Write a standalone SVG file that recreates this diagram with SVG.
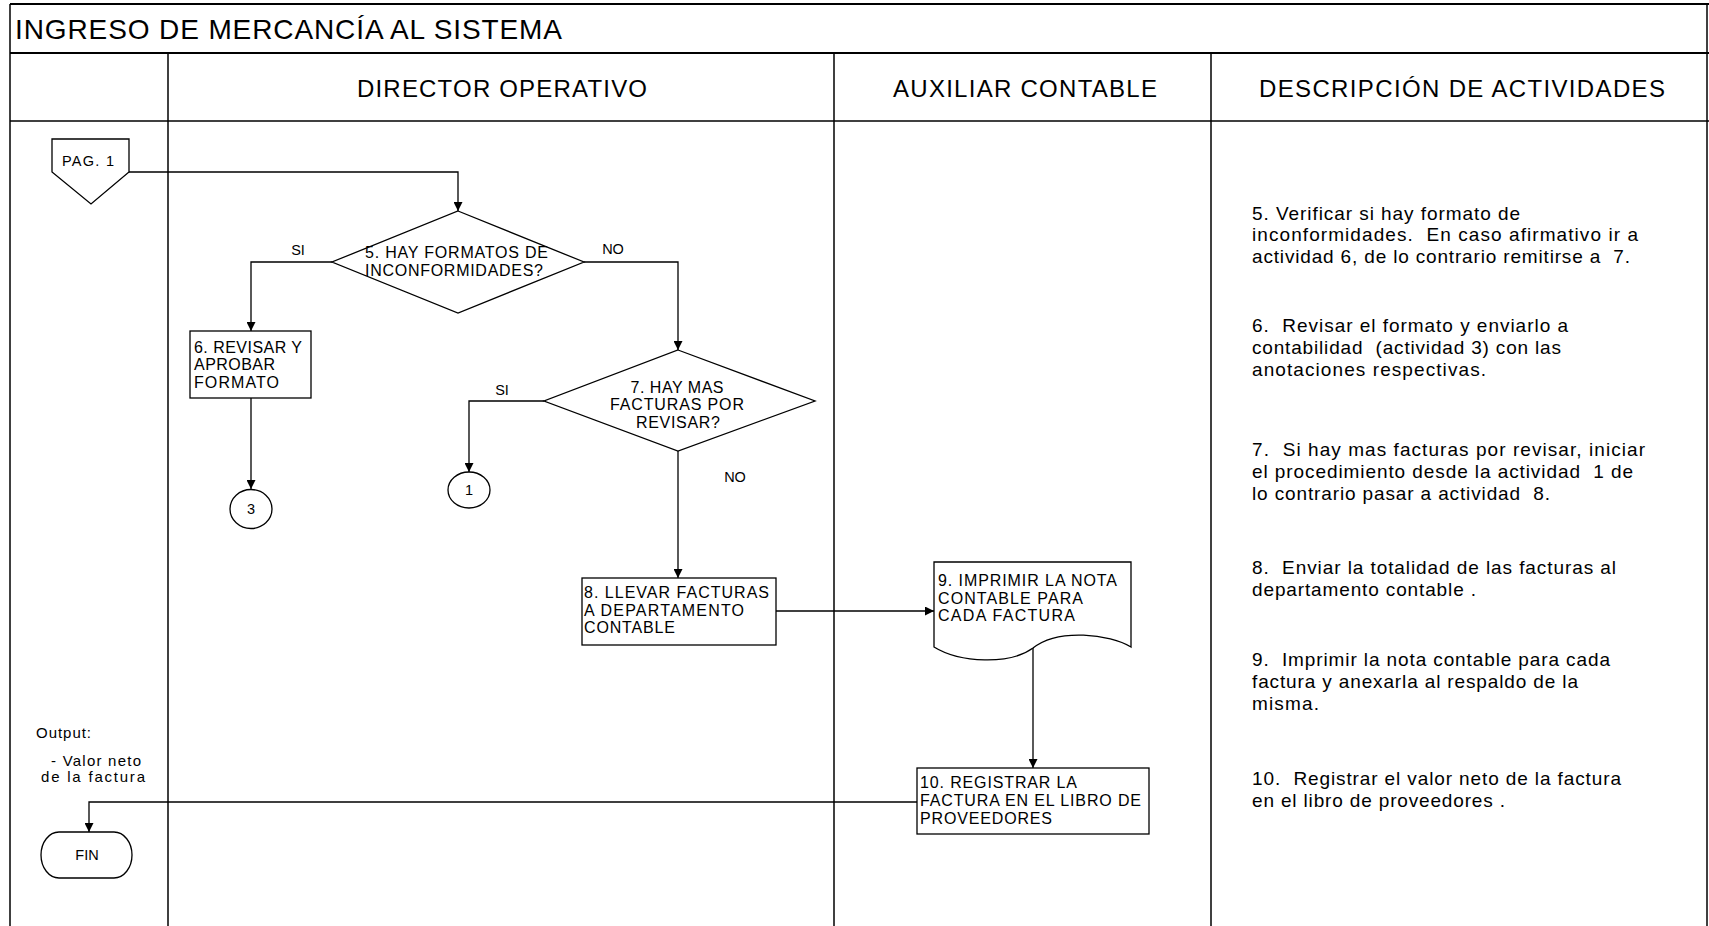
<svg xmlns="http://www.w3.org/2000/svg" width="1709" height="926" viewBox="0 0 1709 926">
  <defs>
    <marker id="arrow" viewBox="0 0 10 10" refX="10" refY="5" markerWidth="9" markerHeight="9" markerUnits="userSpaceOnUse" orient="auto">
      <path d="M0,0 L10,5 L0,10 Z" fill="#000"/>
    </marker>
    <style>
      .frame { fill: none; stroke: #000; stroke-width: 1.5; }
      .frame-bold { fill: none; stroke: #000; stroke-width: 2; }
      .shape { fill: #fff; stroke: #000; stroke-width: 1.3; }
      .conn { fill: none; stroke: #000; stroke-width: 1.3; marker-end: url(#arrow); }
      .t { font-family: "Liberation Sans", Arial, sans-serif; fill: #000; }
      .title { font-size: 28px; }
      .head { font-size: 24px; }
      .node { font-size: 16px; }
      .lbl { font-size: 14.5px; }
      .desc { font-size: 19px; white-space: pre; }
      .note { font-size: 15px; }
      .mid { text-anchor: middle; }
    </style>
  </defs>

  <rect x="0" y="0" width="1709" height="926" fill="#fff"/>

  <!-- table frame: title row, header row, swimlane columns -->
  <g id="frame">
    <line class="frame-bold" x1="10" y1="4" x2="1709" y2="4"/>
    <line class="frame-bold" x1="10" y1="53" x2="1709" y2="53"/>
    <line class="frame" x1="10" y1="121" x2="1709" y2="121"/>
    <line class="frame" x1="10" y1="4" x2="10" y2="926"/>
    <line class="frame" x1="1707" y1="4" x2="1707" y2="926"/>
    <line class="frame" x1="168" y1="53" x2="168" y2="926"/>
    <line class="frame" x1="834" y1="53" x2="834" y2="926"/>
    <line class="frame" x1="1211" y1="53" x2="1211" y2="926"/>
    <text class="t title" x="15" y="39" textLength="547" lengthAdjust="spacing">INGRESO DE MERCANCÍA AL SISTEMA</text>
    <text class="t head" x="357" y="97" textLength="290" lengthAdjust="spacing">DIRECTOR OPERATIVO</text>
    <text class="t head" x="893" y="97" textLength="264" lengthAdjust="spacing">AUXILIAR CONTABLE</text>
    <text class="t head" x="1259" y="97" textLength="406" lengthAdjust="spacing">DESCRIPCIÓN DE ACTIVIDADES</text>
  </g>

  <!-- connectors -->
  <g id="connectors">
    <path class="conn" d="M129,172 H458 V211"/>
    <path class="conn" d="M332,262 H251 V331"/>
    <path class="conn" d="M251,398 V489"/>
    <path class="conn" d="M584,262 H678 V350"/>
    <path class="conn" d="M544,401 H469 V472"/>
    <path class="conn" d="M678,451 V578"/>
    <path class="conn" d="M776,611 H934"/>
    <path class="conn" d="M1033,648 V768"/>
    <path class="conn" d="M917,802 H89 V832"/>
    <text class="t lbl mid" x="298" y="255">SI</text>
    <text class="t lbl mid" x="613" y="254">NO</text>
    <text class="t lbl mid" x="502" y="395">SI</text>
    <text class="t lbl mid" x="735" y="482">NO</text>
  </g>

  <!-- off-page connector from page 1 -->
  <g id="pag1">
    <polygon class="shape" points="52,139 129,139 129,172 91,204 52,172"/>
    <text class="t lbl" x="62" y="166" textLength="52" lengthAdjust="spacing">PAG. 1</text>
  </g>

  <!-- decision 5 -->
  <g id="d5">
    <polygon class="shape" points="458,211 584,262 458,313 332,262"/>
    <text class="t node" x="365" y="258" textLength="183" lengthAdjust="spacing">5. HAY FORMATOS DE</text>
    <text class="t node" x="365" y="276" textLength="178" lengthAdjust="spacing">INCONFORMIDADES?</text>
  </g>

  <!-- activity 6 -->
  <g id="a6">
    <rect class="shape" x="190" y="331" width="121" height="67"/>
    <text class="t node" x="194" y="352.5" textLength="108" lengthAdjust="spacing">6. REVISAR Y</text>
    <text class="t node" x="194" y="370" textLength="81" lengthAdjust="spacing">APROBAR</text>
    <text class="t node" x="194" y="387.5" textLength="85" lengthAdjust="spacing">FORMATO</text>
  </g>

  <!-- connector to activity 3 -->
  <g id="c3">
    <ellipse class="shape" cx="251" cy="509" rx="21" ry="19.5"/>
    <text class="t lbl mid" x="251" y="514">3</text>
  </g>

  <!-- decision 7 -->
  <g id="d7">
    <polygon class="shape" points="678,350 815,401 678,451 544,401"/>
    <text class="t node mid" x="677" y="393" textLength="93" lengthAdjust="spacing">7. HAY MAS</text>
    <text class="t node mid" x="677" y="410" textLength="134" lengthAdjust="spacing">FACTURAS POR</text>
    <text class="t node mid" x="678" y="427.5" textLength="84" lengthAdjust="spacing">REVISAR?</text>
  </g>

  <!-- connector to activity 1 -->
  <g id="c1">
    <ellipse class="shape" cx="469" cy="490" rx="21" ry="18"/>
    <text class="t lbl mid" x="469" y="495">1</text>
  </g>

  <!-- activity 8 -->
  <g id="a8">
    <rect class="shape" x="582" y="578" width="194" height="67"/>
    <text class="t node" x="584" y="598" textLength="185" lengthAdjust="spacing">8. LLEVAR FACTURAS</text>
    <text class="t node" x="584" y="615.5" textLength="160" lengthAdjust="spacing">A DEPARTAMENTO</text>
    <text class="t node" x="584" y="633" textLength="91" lengthAdjust="spacing">CONTABLE</text>
  </g>

  <!-- activity 9 (document) -->
  <g id="a9">
    <path class="shape" d="M934,562 H1131 V647 C1110,634 1058,628 1033,648 C1010,665 960,663 934,647 Z"/>
    <text class="t node" x="938" y="585.5" textLength="179" lengthAdjust="spacing">9. IMPRIMIR LA NOTA</text>
    <text class="t node" x="938" y="603.5" textLength="145" lengthAdjust="spacing">CONTABLE PARA</text>
    <text class="t node" x="938" y="621" textLength="137" lengthAdjust="spacing">CADA FACTURA</text>
  </g>

  <!-- activity 10 -->
  <g id="a10">
    <rect class="shape" x="917" y="768" width="232" height="66"/>
    <text class="t node" x="920" y="787.5" textLength="157" lengthAdjust="spacing">10. REGISTRAR LA</text>
    <text class="t node" x="920" y="806" textLength="221" lengthAdjust="spacing">FACTURA EN EL LIBRO DE</text>
    <text class="t node" x="920" y="823.5" textLength="132" lengthAdjust="spacing">PROVEEDORES</text>
  </g>

  <!-- end terminator -->
  <g id="fin">
    <rect class="shape" x="41" y="832" width="91" height="46" rx="18" ry="23"/>
    <text class="t lbl mid" x="87" y="860">FIN</text>
  </g>

  <!-- output note -->
  <g id="output">
    <text class="t note" x="36" y="738" textLength="55" lengthAdjust="spacing">Output:</text>
    <text class="t note" x="51" y="766" textLength="90" lengthAdjust="spacing">- Valor neto</text>
    <text class="t note" x="41" y="782" textLength="104" lengthAdjust="spacing">de la factura</text>
  </g>

  <!-- activity descriptions -->
  <g id="descriptions">
    <text class="t desc" x="1252" y="219.5" textLength="268" lengthAdjust="spacing">5. Verificar si hay formato de</text>
    <text class="t desc" x="1252" y="241" textLength="386" lengthAdjust="spacing">inconformidades.  En caso afirmativo ir a</text>
    <text class="t desc" x="1252" y="263" textLength="378" lengthAdjust="spacing">actividad 6, de lo contrario remitirse a  7.</text>

    <text class="t desc" x="1252" y="332" textLength="316" lengthAdjust="spacing">6.  Revisar el formato y enviarlo a</text>
    <text class="t desc" x="1252" y="353.5" textLength="309" lengthAdjust="spacing">contabilidad  (actividad 3) con las</text>
    <text class="t desc" x="1252" y="376" textLength="234" lengthAdjust="spacing">anotaciones respectivas.</text>

    <text class="t desc" x="1252" y="456" textLength="393" lengthAdjust="spacing">7.  Si hay mas facturas por revisar, iniciar</text>
    <text class="t desc" x="1252" y="477.5" textLength="381" lengthAdjust="spacing">el procedimiento desde la actividad  1 de</text>
    <text class="t desc" x="1252" y="500" textLength="298" lengthAdjust="spacing">lo contrario pasar a actividad  8.</text>

    <text class="t desc" x="1252" y="573.5" textLength="364" lengthAdjust="spacing">8.  Enviar la totalidad de las facturas al</text>
    <text class="t desc" x="1252" y="595.5" textLength="224" lengthAdjust="spacing">departamento contable .</text>

    <text class="t desc" x="1252" y="666" textLength="358" lengthAdjust="spacing">9.  Imprimir la nota contable para cada</text>
    <text class="t desc" x="1252" y="687.5" textLength="326" lengthAdjust="spacing">factura y anexarla al respaldo de la</text>
    <text class="t desc" x="1252" y="710" textLength="67" lengthAdjust="spacing">misma.</text>

    <text class="t desc" x="1252" y="785" textLength="369" lengthAdjust="spacing">10.  Registrar el valor neto de la factura</text>
    <text class="t desc" x="1252" y="807" textLength="253" lengthAdjust="spacing">en el libro de proveedores .</text>
  </g>
</svg>
